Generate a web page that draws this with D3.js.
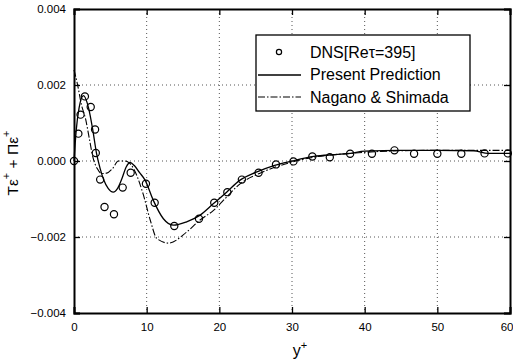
<!DOCTYPE html>
<html><head><meta charset="utf-8">
<script src="https://cdn.jsdelivr.net/npm/d3@7"></script>
<style>body{margin:0;background:#fff}svg{display:block;font-family:"Liberation Sans",Arial,sans-serif}</style>
</head><body>
<svg id="c" width="513" height="364"></svg>
<script>
const dnsX = [0, 0.6, 0.9, 1.5, 2.3, 2.9, 3.0, 3.6, 4.2, 5.5, 6.7, 7.8, 9.9, 11.1, 13.8, 17.2, 19.3, 21.1, 23.1, 25.4, 27.8, 30.2, 32.8, 35.2, 38, 41, 44.1, 46.8, 50, 53.3, 56.5, 59.7];
const dnsY = [0, 0.00072, 0.00122, 0.0017, 0.00142, 0.00083, 0.00021, -0.00049, -0.00121, -0.0014, -0.0007, -0.00031, -0.0006, -0.0011, -0.00171, -0.00152, -0.0011, -0.00082, -0.00049, -0.00031, -0.00009, -0.00001, 0.00012, 0.0001, 0.00019, 0.00019, 0.00028, 0.00019, 0.00019, 0.00019, 0.0002, 0.0002];

const presX = [0, 0.3, 0.7, 1.3, 2.0, 2.6, 3.1, 3.6, 4.1, 4.7, 5.4, 6.0, 6.6, 7.2, 7.7, 8.3, 9.0, 9.8, 10.9, 12.3, 13.7, 15.5, 17.3, 19.2, 21, 22.8, 25, 27.5, 30, 33, 36, 38, 40, 45, 50, 55, 57, 60];
const presY = [0, 0.0008, 0.0014, 0.00172, 0.0014, 0.0008, 0.0002, -0.0002, -0.0005, -0.00072, -0.00082, -0.00072, -0.00046, -0.00015, -0.00004, -0.00012, -0.0003, -0.00051, -0.00103, -0.00152, -0.00169, -0.0016, -0.00143, -0.00112, -0.00082, -0.00051, -0.0003, -0.00012, 0.0, 0.00012, 0.00017, 0.0002, 0.00026, 0.00028, 0.00028, 0.00027, 0.0002, 0.0002];

const nsX = [0, 0.5, 1.0, 1.6, 2.1, 2.6, 3.2, 3.8, 4.5, 5.3, 6.1, 7.0, 7.6, 8.2, 9.5, 10.5, 11.4, 13.0, 15.5, 17.3, 19.2, 21, 22.6, 25.6, 30, 33, 38, 45, 50, 60];
const nsY = [0.0024, 0.002, 0.0015, 0.0011, 0.0006, 0.0001, -0.0002, -0.00033, -0.00032, -0.0002, 0.0, 0.0, -0.00005, -0.0002, -0.00086, -0.00156, -0.00204, -0.00216, -0.00187, -0.00156, -0.0013, -0.00095, -0.00064, -0.00032, -0.00003, 0.0001, 0.0002, 0.00027, 0.00028, 0.00028];

const xTicks = [0, 10, 20, 30, 40, 50, 60];
const yTicks = [-0.004, -0.002, 0.000, 0.002, 0.004];
const legendLabels = ["DNS[Re\u03C4=395]", "Present Prediction", "Nagano & Shimada"];

const svg = d3.select("#c");
const x = d3.scaleLinear().domain([0, 60]).range([74, 510]);
const y = d3.scaleLinear().domain([-0.004, 0.004]).range([313, 9]);

// grid
const g = svg.append("g");
g.selectAll(".gx").data(xTicks.slice(1, -1)).enter().append("line")
  .attr("x1", d => x(d)).attr("x2", d => x(d)).attr("y1", y(0.004)).attr("y2", y(-0.004))
  .attr("stroke", "#555").attr("stroke-width", 1).attr("stroke-dasharray", "1,3");
g.selectAll(".gy").data(yTicks.slice(1, -1)).enter().append("line")
  .attr("y1", d => y(d)).attr("y2", d => y(d)).attr("x1", x(0)).attr("x2", x(60))
  .attr("stroke", "#555").attr("stroke-width", 1).attr("stroke-dasharray", "1,3");

// axes
const xAxis = d3.axisBottom(x).tickValues(xTicks).tickSize(-6).tickPadding(10).tickFormat(d3.format("d"));
const yAxis = d3.axisLeft(y).tickValues(yTicks).tickSize(-6).tickPadding(8).tickFormat(d3.format(".3f"));
const ax = svg.append("g").attr("transform", `translate(0,${y(-0.004)})`).call(xAxis);
const ay = svg.append("g").attr("transform", `translate(${x(0)},0)`).call(yAxis);
svg.append("g").attr("transform", `translate(0,${y(0.004)})`).call(d3.axisTop(x).tickValues(xTicks).tickSize(-6).tickFormat(""));
svg.append("g").attr("transform", `translate(${x(60)},0)`).call(d3.axisRight(y).tickValues(yTicks).tickSize(-6).tickFormat(""));
svg.selectAll(".domain").attr("stroke", "#000").attr("stroke-width", 2);
svg.selectAll(".tick line").attr("stroke", "#000").attr("stroke-width", 1.3);
svg.selectAll(".tick text").attr("font-size", 11.5).attr("fill", "#000").attr("font-family", "Liberation Sans, Arial, sans-serif");
// keep the last x label inside the picture
ax.selectAll(".tick text").filter(d => d === 60).attr("text-anchor", "end").attr("x", 3);

// lines
const pres = presX.map((d, i) => [d, presY[i]]);
const ns = nsX.map((d, i) => [d, nsY[i]]);
const line = d3.line().x(d => x(d[0])).y(d => y(d[1])).curve(d3.curveMonotoneX);
svg.append("path").attr("d", line(ns)).attr("fill", "none").attr("stroke", "#000").attr("stroke-width", 1.1).attr("stroke-dasharray", "7,2,1.5,2");
svg.append("path").attr("d", line(pres)).attr("fill", "none").attr("stroke", "#000").attr("stroke-width", 1.3);

// DNS circles
svg.selectAll(".dns").data(dnsX.map((d, i) => [d, dnsY[i]])).enter().append("circle")
  .attr("cx", d => x(d[0])).attr("cy", d => y(d[1])).attr("r", 3.6)
  .attr("fill", "none").attr("stroke", "#000").attr("stroke-width", 1.2);

// legend
const lg = svg.append("g");
lg.append("rect").attr("x", 256).attr("y", 35).attr("width", 214).attr("height", 76)
  .attr("fill", "#fff").attr("stroke", "#000").attr("stroke-width", 1.3);
lg.append("circle").attr("cx", 279).attr("cy", 52).attr("r", 2.6).attr("fill", "none").attr("stroke", "#000").attr("stroke-width", 1.2);
lg.append("line").attr("x1", 258).attr("x2", 301).attr("y1", 75).attr("y2", 75).attr("stroke", "#000").attr("stroke-width", 1.3);
lg.append("line").attr("x1", 258).attr("x2", 301).attr("y1", 97).attr("y2", 97).attr("stroke", "#000").attr("stroke-width", 1.1).attr("stroke-dasharray", "7,2,1.5,2");
lg.selectAll(".lt").data(legendLabels).enter().append("text")
  .attr("x", 310).attr("y", (d, i) => 57.5 + i * 22.5).attr("font-size", 16).attr("fill", "#000").text(d => d);

// axis titles
const xt = svg.append("text").attr("x", 300).attr("y", 356).attr("font-size", 16).attr("text-anchor", "middle");
xt.append("tspan").text("y");
xt.append("tspan").attr("dy", -7).attr("font-size", 11).text("+");

const yt = svg.append("text").attr("transform", "translate(18,163) rotate(-90)").attr("text-anchor", "middle").attr("font-size", 15.5);
yt.append("tspan").text("T\u03B5");
yt.append("tspan").attr("dy", -8).attr("font-size", 11).text("+");
yt.append("tspan").attr("dy", 8).text(" + \u03A0\u03B5");
yt.append("tspan").attr("dy", -8).attr("font-size", 11).text("+");
</script>
</body></html>
